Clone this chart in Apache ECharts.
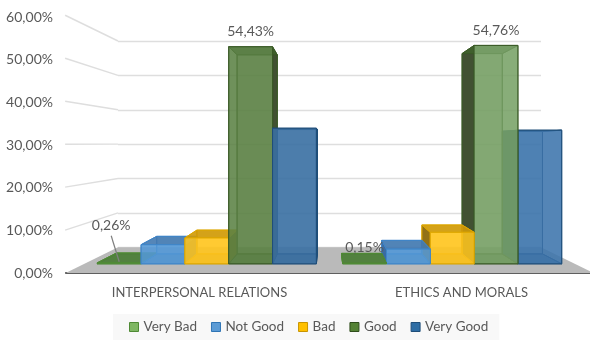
<!DOCTYPE html>
<html>
<head>
<meta charset="utf-8">
<style>html,body{margin:0;padding:0;background:#fff}#chart{width:590px;height:340px}</style>
<script src="https://cdn.jsdelivr.net/npm/echarts@6/dist/echarts.min.js"></script>
</head>
<body>
<div id="chart"></div>
<script>
// Survey shares per category, in percent
const categories = ['INTERPERSONAL RELATIONS', 'ETHICS AND MORALS'];
const seriesNames = ['Very Bad', 'Not Good', 'Bad', 'Good', 'Very Good'];
const veryBad = [0.26, 0.15];
const notGood = [4.8, 3.7];
const bad = [6.5, 7.9];
const good = [54.43, 54.76];
const veryGood = [34.0, 33.5];
const yTicks = [0, 10, 20, 30, 40, 50, 60];

// Which values carry a printed label: series name -> category indexes
const labelled = { 'Very Bad': [0, 1], 'Good': [0, 1] };

const seriesValues = [veryBad, notGood, bad, good, veryGood];

// Base fill, front-face fill per category, outward flank, edge, legend swatch fill and border
const palette = [
  { rgb: [96, 158, 72],  front: [[96, 158, 72], [96, 158, 72]],    flank: [60, 100, 40],  edge: '#4f8a35', swatch: '#7fb763', border: '#4f8a35' },
  { rgb: [84, 150, 218], front: [[84, 152, 214], [84, 152, 214]],  flank: [56, 104, 158], edge: '#3f85c8', swatch: '#5b9bd5', border: '#2f75b5' },
  { rgb: [255, 190, 10], front: [[255, 198, 32], [255, 198, 32]],  flank: [140, 108, 18], edge: '#dda600', swatch: '#ffc000', border: '#c89400' },
  { rgb: [78, 122, 52],  front: [[92, 130, 70], [124, 165, 107]],  flank: [60, 76, 45],   edge: '#3a5a26', swatch: '#548235', border: '#2f4d1c' },
  { rgb: [46, 108, 164], front: [[60, 112, 162], [62, 118, 172]],  flank: [30, 72, 112],  edge: '#1f4e79', swatch: '#2e6da4', border: '#1f4e79' }
];

// Perspective set-up: the wall grid is the far plane; nearer planes scale about the vanishing point
const vanish = [329.5, 144];
const planeWall = 1.25;     // front edge of the floor
const planeBarFront = 1.16; // front of the columns
const planeBarBack = 1.064; // back of the columns
const barShare = 0.1786;    // column width as a share of the category band

function project(x, y, k) {
  return [vanish[0] + (x - vanish[0]) * k, vanish[1] + (y - vanish[1]) * k];
}
function rgba(c, f, a) {
  return 'rgba(' + c.map(n => Math.min(255, Math.round(n * f))).join(',') + ',' + a + ')';
}
function percent(v) {
  return v.toFixed(2).replace('.', ',') + '%';
}

function boxRenderer(seriesIdx) {
  const col = palette[seriesIdx];
  return function (params, api) {
    const cat = api.value(0), v = api.value(1);
    const top = api.coord([cat, v]);
    const base = api.coord([cat, 0]);
    const barW = api.size([1, 0])[0] * barShare;
    const x0 = top[0] + (seriesIdx - 2.5) * barW;
    const x1 = x0 + barW;
    const yT = top[1], yB = base[1];

    const F = (x, y) => project(x, y, planeBarFront);
    const B = (x, y) => project(x, y, planeBarBack);

    // Left of the vanishing point the right flank faces outward, on the right the left flank does
    const leftOfCentre = (x0 + x1) / 2 < vanish[0];
    const order = (leftOfCentre ? seriesIdx : 10 - seriesIdx) * 10;
    const rim = { stroke: col.edge, lineWidth: 1 };

    const face = (pts, fill, z) => ({
      type: 'polygon', z2: order + z, silent: true,
      shape: { points: pts },
      style: Object.assign({ fill: fill }, rim)
    });

    const leftFace = [F(x0, yT), B(x0, yT), B(x0, yB), F(x0, yB)];
    const rightFace = [F(x1, yT), B(x1, yT), B(x1, yB), F(x1, yB)];
    const outer = leftOfCentre ? rightFace : leftFace;
    const inner = leftOfCentre ? leftFace : rightFace;

    const children = [
      face([B(x0, yT), B(x1, yT), B(x1, yB), B(x0, yB)], rgba(col.rgb, 1, 0.55), 0),
      face([B(x0, yB), B(x1, yB), F(x1, yB), F(x0, yB)], rgba(col.rgb, 0.85, 0.75), 1),
      face(inner, rgba(col.rgb, 1, 0.4), 2),
      face(outer, rgba(col.flank, 1, 0.95), 3),
      face([B(x0, yT), B(x1, yT), F(x1, yT), F(x0, yT)], rgba(col.rgb, 0.8, 0.85), 4),
      face([F(x0, yT), F(x1, yT), F(x1, yB), F(x0, yB)], rgba(col.front[cat], 1, 0.8), 5)
    ];

    // Printed value above the column, with a leader for the flat first column
    if ((labelled[seriesNames[seriesIdx]] || []).indexOf(cat) >= 0) {
      const front = F((x0 + x1) / 2, yT);
      const flat = v < 1;
      const tx = front[0] + (flat && cat === 0 ? -8 : 0);
      const ty = flat ? (cat === 0 ? front[1] - 37 : front[1] - 16) : front[1] - 15;
      children.push({
        type: 'text', z2: 500, silent: true,
        style: {
          text: percent(v), x: tx, y: ty, align: 'center', verticalAlign: 'middle',
          fill: '#595959', font: '14px Lato'
        }
      });
      if (flat && cat === 0) {
        children.push({
          type: 'line', z2: 500, silent: true,
          shape: { x1: tx, y1: ty + 10, x2: front[0], y2: front[1] - 1 },
          style: { stroke: '#7f7f7f', lineWidth: 1.2 }
        });
      }
    }
    return { type: 'group', children: children };
  };
}

// Grey floor plane running from the wall to the front edge
function floorRenderer(params, api) {
  const cs = params.coordSys;
  const y0 = api.coord([0, 0])[1];
  const l = cs.x, r = cs.x + cs.width;
  return {
    type: 'polygon', silent: true,
    shape: { points: [[l, y0], [r, y0], project(r, y0, planeWall), project(l, y0, planeWall)] },
    style: { fill: '#bababa' }
  };
}

// Gridlines continuing along the left wall towards the value axis
function sideLineRenderer(params, api) {
  const cs = params.coordSys;
  const y = api.coord([0, api.value(1)])[1];
  const p = project(cs.x, y, planeWall);
  return {
    type: 'line', silent: true,
    shape: { x1: cs.x, y1: y, x2: p[0], y2: p[1] },
    style: { stroke: '#dedede', lineWidth: 1.4 }
  };
}

const fontFamily = 'Lato';
const boxSeries = seriesNames.map((name, i) => ({
  name: name,
  type: 'custom',
  coordinateSystem: 'cartesian2d',
  xAxisIndex: 0,
  yAxisIndex: 0,
  z: 5,
  clip: false,
  renderItem: boxRenderer(i),
  encode: { x: 0, y: 1 },
  itemStyle: { color: palette[i].swatch },
  data: seriesValues[i].map((v, c) => [c, v])
}));

const chart = echarts.init(document.getElementById('chart'), null, { renderer: 'canvas' });
chart.setOption({
  animation: false,
  backgroundColor: '#ffffff',
  grid: [
    { left: 118, top: 41, width: 423, height: 206.3 },
    { left: 66, top: 17, width: 524, height: 256 }
  ],
  xAxis: [
    { type: 'category', gridIndex: 0, data: categories, show: false },
    {
      type: 'category', gridIndex: 1, data: categories,
      axisTick: { show: false },
      axisLine: { lineStyle: { color: '#404040', width: 2 } },
      axisLabel: { color: '#595959', fontFamily: fontFamily, fontSize: 13, margin: 13, padding: [0, 0, 0, 5], interval: 0 }
    }
  ],
  yAxis: [
    {
      type: 'value', gridIndex: 0, min: 0, max: 60, interval: 10,
      axisLine: { show: false }, axisTick: { show: false }, axisLabel: { show: false },
      splitLine: { lineStyle: { color: '#dedede', width: 1.4 } }
    },
    {
      type: 'value', gridIndex: 1, min: 0, max: 60, interval: 10,
      axisLine: { show: false }, axisTick: { show: false }, splitLine: { show: false },
      axisLabel: { color: '#595959', fontFamily: fontFamily, fontSize: 14, margin: 13, formatter: percent }
    }
  ],
  legend: {
    left: 113, top: 314,
    padding: [6, 11, 7, 16],
    itemGap: 14, itemWidth: 9, itemHeight: 9,
    backgroundColor: '#f8f8f8',
    selectedMode: false,
    textStyle: { color: '#595959', fontFamily: fontFamily, fontSize: 13.5 },
    data: seriesNames.map((name, i) => ({
      name: name, icon: 'rect',
      itemStyle: { color: palette[i].swatch, borderColor: palette[i].border, borderWidth: 1 }
    }))
  },
  series: [
    {
      type: 'custom', name: 'floor', xAxisIndex: 0, yAxisIndex: 0, z: 3, clip: false,
      renderItem: floorRenderer, encode: { x: 0, y: 1 }, data: [[0, 0]]
    },
    {
      type: 'custom', name: 'wall', xAxisIndex: 0, yAxisIndex: 0, z: 2, clip: false,
      renderItem: sideLineRenderer, encode: { x: 0, y: 1 }, data: yTicks.slice(1).map(t => [0, t])
    }
  ].concat(boxSeries)
});
</script>
</body>
</html>
